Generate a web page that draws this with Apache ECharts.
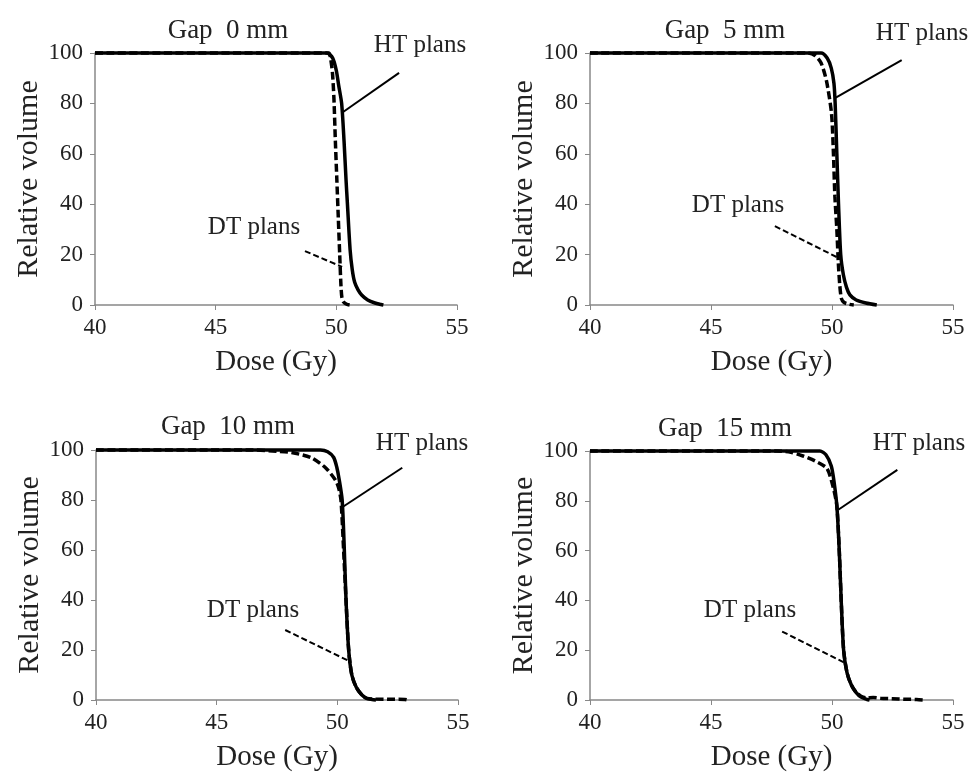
<!DOCTYPE html>
<html>
<head>
<meta charset="utf-8">
<script src="https://cdn.jsdelivr.net/npm/echarts@6/dist/echarts.min.js"></script>
<style>
  html, body { margin: 0; padding: 0; background: #fff; }
  #main { width: 973px; height: 773px; }
</style>
</head>
<body>
<div id="main"></div>
<script>
// panel titles
var gapTitles = ["Gap  0 mm", "Gap  5 mm", "Gap  10 mm", "Gap  15 mm"];
var xTicks = [40, 45, 50, 55];
var yTicks = [0, 20, 40, 60, 80, 100];

// [dose (Gy), relative volume]
var gap0Ht = [[40,100],[49.6,100],[49.85,98],[50.0,93],[50.1,87],[50.22,80],[50.32,65],[50.4,50],[50.46,40],[50.57,22],[50.66,14],[50.76,9],[50.9,6],[51.05,4],[51.3,2],[51.6,0.8],[51.85,0.2],[51.95,0]];
var gap0Dt = [[40,100],[49.68,100],[49.76,98],[49.84,92],[49.9,82],[49.96,65],[50.02,50],[50.08,35],[50.14,20],[50.19,8],[50.23,3],[50.3,1.2],[50.43,0.3],[50.55,0]];

var gap5Ht = [[40,100],[49.55,100],[49.8,98],[49.97,94],[50.08,88],[50.13,80],[50.2,60],[50.27,40],[50.36,20],[50.47,12],[50.6,7],[50.74,4],[51.0,2],[51.4,0.8],[51.85,0]];
var gap5Dt = [[40,100],[49.0,100],[49.3,99],[49.55,96],[49.77,89],[49.98,76],[50.06,60],[50.12,43],[50.2,30],[50.26,17],[50.32,8],[50.39,2.5],[50.5,1],[50.7,0.3],[50.9,0]];

var gap10Ht = [[40,100],[49.3,100],[49.6,99.3],[49.85,97],[49.98,93],[50.08,88],[50.2,80],[50.29,60],[50.36,40],[50.47,20],[50.6,10],[50.79,5],[51.02,2],[51.23,0.6],[51.5,0.1],[51.6,0]];
var gap10Dt = [[40,100],[46.5,100],[47.5,99.5],[48.1,99],[48.9,97],[49.5,93],[49.92,88],[50.05,85],[50.15,80],[50.26,60],[50.36,40],[50.47,20],[50.6,10],[50.79,5],[51.02,2],[51.23,0.6],[51.6,0.4],[52.2,0.3],[52.8,0.2],[52.9,0]];

var gap15Ht = [[40,100],[49.5,100],[49.75,98.5],[49.97,94],[50.08,88],[50.2,78],[50.3,60],[50.38,40],[50.48,20],[50.62,11],[50.8,6],[51.0,3],[51.2,1.2],[51.45,0.2],[51.55,0]];
var gap15Dt = [[40,100],[47.7,100],[48.3,99.5],[48.8,98],[49.3,96],[49.79,93],[50.06,85],[50.2,78],[50.3,60],[50.38,40],[50.48,20],[50.62,11],[50.8,6],[51.0,3],[51.2,1.5],[51.44,0.8],[51.7,1.0],[52.0,0.7],[52.5,0.5],[53.0,0.3],[53.5,0.2],[53.8,0]];

// leader lines [x1, y1, x2, y2] in data units
var htLeaders = [[52.6,92.1,50.28,76.6],[52.88,97.2,50.12,82.1],[52.69,92.9,50.25,77.4],[52.7,92.4,50.26,76.4]];
var dtLeaders = [[48.7,21.4,50.24,15.1],[47.64,31.3,50.2,19.0],[47.84,28.0,50.46,15.7],[47.94,27.5,50.55,14.8]];

var htData = [gap0Ht, gap5Ht, gap10Ht, gap15Ht];
var dtData = [gap0Dt, gap5Dt, gap10Dt, gap15Dt];

var font = "Liberation Serif";
var textColor = "#222";
var axisColor = "#888";

var grids = [
    { left: 95, top: 53, width: 362, height: 252 },
    { left: 590, top: 53, width: 363, height: 252 },
    { left: 96, top: 450, width: 362, height: 252 },
    { left: 590, top: 451, width: 363, height: 251 }
];
var titlePos = [[223, 12], [720, 12], [223, 408], [720, 410]];
var htLabelPos = [[420, 45], [922, 33], [422, 443], [919, 443]];
var dtLabelPos = [[254, 227], [738, 205], [253, 610], [750, 610]];

var chart = echarts.init(document.getElementById("main"));

var xAxes = [], yAxes = [], series = [], titles = [], graphics = [];
grids.forEach(function (g, i) {
    xAxes.push({
        type: "value", gridIndex: i, min: xTicks[0], max: xTicks[xTicks.length - 1], interval: 5,
        name: "Dose (Gy)", nameLocation: "middle", nameGap: 43,
        nameTextStyle: { fontFamily: font, fontSize: 29, color: textColor },
        axisLine: { lineStyle: { color: axisColor, width: 1.5 } },
        axisTick: { length: 5, lineStyle: { color: axisColor } },
        axisLabel: { fontFamily: font, fontSize: 23, color: textColor, margin: 11 },
        splitLine: { show: false }
    });
    yAxes.push({
        type: "value", gridIndex: i, min: yTicks[0], max: yTicks[yTicks.length - 1], interval: 20,
        name: "Relative volume", nameLocation: "middle", nameGap: 51, nameRotate: 90,
        nameTextStyle: { fontFamily: font, fontSize: 30, color: textColor },
        axisLine: { show: true, lineStyle: { color: axisColor, width: 1.5 } },
        axisTick: { show: true, length: 5, lineStyle: { color: axisColor } },
        axisLabel: { fontFamily: font, fontSize: 23, color: textColor, margin: 12 },
        splitLine: { show: false }
    });
    series.push({
        name: "DT plans", type: "line", xAxisIndex: i, yAxisIndex: i,
        data: dtData[i], showSymbol: false, smooth: 0.25, clip: false,
        lineStyle: { color: "#000", width: 3.5, type: [8, 3.5] },
        markLine: {
            silent: true, symbol: "none", label: { show: false },
            lineStyle: { color: "#000", width: 2, type: [6, 3] },
            data: [[{ coord: dtLeaders[i].slice(0, 2) }, { coord: dtLeaders[i].slice(2) }]]
        }
    });
    series.push({
        name: "HT plans", type: "line", xAxisIndex: i, yAxisIndex: i,
        data: htData[i], showSymbol: false, smooth: 0.25, clip: false,
        lineStyle: { color: "#000", width: 3.5 },
        markLine: {
            silent: true, symbol: "none", label: { show: false },
            lineStyle: { color: "#000", width: 2, type: "solid" },
            data: [[{ coord: htLeaders[i].slice(0, 2) }, { coord: htLeaders[i].slice(2) }]]
        }
    });
    titles.push({
        text: gapTitles[i], left: titlePos[i][0], top: titlePos[i][1], textAlign: "center",
        textStyle: { fontFamily: font, fontSize: 27, fontWeight: "normal", color: textColor }
    });
    graphics.push({
        type: "text", x: htLabelPos[i][0], y: htLabelPos[i][1],
        style: { text: "HT plans", font: "25px " + font, fill: textColor, textAlign: "center", textVerticalAlign: "middle" }
    });
    graphics.push({
        type: "text", x: dtLabelPos[i][0], y: dtLabelPos[i][1],
        style: { text: "DT plans", font: "25px " + font, fill: textColor, textAlign: "center", textVerticalAlign: "middle" }
    });
});

chart.setOption({
    backgroundColor: "#fff",
    animation: false,
    title: titles,
    grid: grids,
    xAxis: xAxes,
    yAxis: yAxes,
    series: series,
    graphic: graphics
});
</script>
</body>
</html>
